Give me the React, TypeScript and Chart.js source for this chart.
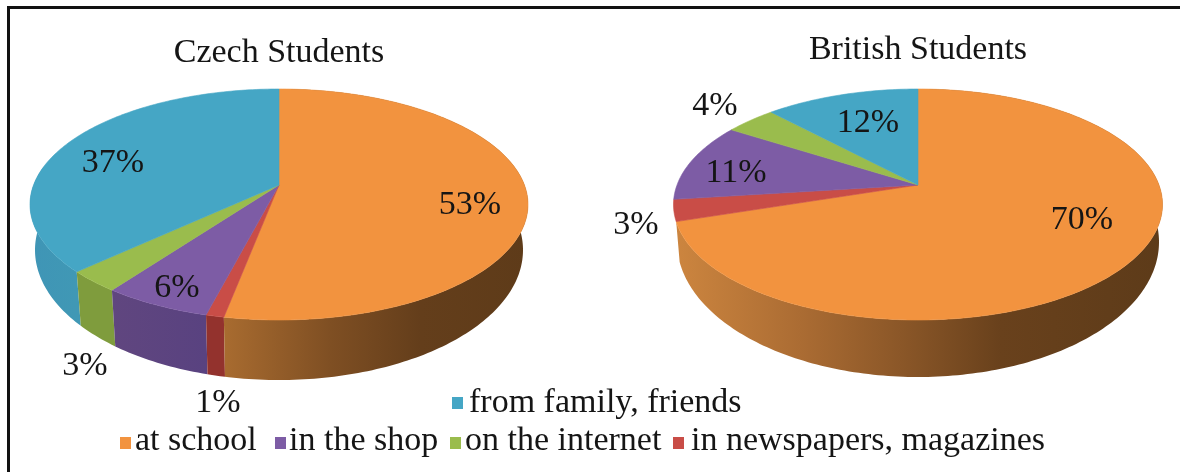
import React, { useEffect, useRef } from "react";
import { Chart, registerables } from "chart.js";

Chart.register(...registerables);

// Shared series (clockwise from twelve o'clock)
const categories = ["at school", "in newspapers, magazines", "in the shop", "on the internet", "from family, friends"];
const czechValues = [53, 1, 6, 3, 37];
const britishValues = [70, 3, 11, 4, 12];
const sliceColors = ["#F2933F", "#C94D47", "#7D5CA5", "#9ABC4D", "#45A6C5"];

const FONT = '"Liberation Serif", "Times New Roman", serif';
const TEXT = "#151515";

// Page position of each percentage label, in slice order
const czechLabelAt = [[470, 202], [218, 400], [177, 285], [85, 363], [113, 160]];
const britishLabelAt = [[1082, 217], [636, 222], [736, 170], [715, 103], [868, 120]];

// Side wall colours: [page x, colour] stops per slice
const czechWall = [
  [[222, "#A96C30"], [330, "#7F4F23"], [420, "#643E1B"], [528, "#5E3B19"]],
  [[205, "#93322D"], [222, "#93322D"]],
  [[111, "#60467F"], [205, "#594280"]],
  [[76, "#7F9C3D"], [111, "#7F9C3D"]],
  [[30, "#3F95B6"], [76, "#4098B5"]],
];
const britishWall = [
  [[677, "#CC853F"], [800, "#AB6C33"], [900, "#8B5728"], [1000, "#69411C"], [1163, "#5D3B19"]],
  [[674, "#93322D"], [680, "#93322D"]],
  [[674, "#60467F"], [730, "#60467F"]],
  [[730, "#7F9C3D"], [775, "#7F9C3D"]],
  [[775, "#3F95B6"], [918, "#3F95B6"]],
];

// Perspective tilt of the disc: the far half is foreshortened
const TILT = 0.1688;
const STEP = Math.PI / 180;

type DiscShape = {
  ry: number;
  wallRx: number;
  wallCy: number;
  wallRy: number;
  wallEnd: number;
  pageLeft: number;
  labelAt: number[][];
  wall: any[][];
};

function project(cx: number, cy: number, rx: number, ry: number, theta: number): [number, number] {
  const u = Math.sin(theta);
  const v = Math.cos(theta);
  const w = 1 + TILT * v;
  const x = cx + (rx * Math.sqrt(1 - TILT * TILT) * u) / w;
  const y = cy - ry * TILT - (ry * (1 - TILT * TILT) * v) / w;
  return [x, y];
}

function samples(start: number, end: number): number[] {
  const out: number[] = [];
  for (let t = start; t < end; t += STEP) out.push(t);
  out.push(end);
  return out;
}

// Replaces the flat arcs with a tilted disc built from the library's computed arc angles
const discPlugin = {
  id: "tiltedDisc",
  beforeDatasetsDraw(chart: any, _args: any, opts: DiscShape) {
    const { ctx } = chart;
    const arcs = chart.getDatasetMeta(0).data;
    const wallEnd = (opts.wallEnd * Math.PI) / 180;
    ctx.save();

    // Side walls, rear slices first so the front slice overlaps them
    for (let i = arcs.length - 1; i >= 0; i--) {
      const arc = arcs[i];
      const s = arc.startAngle + Math.PI / 2;
      const e = Math.min(arc.endAngle + Math.PI / 2, wallEnd);
      if (e <= s) continue;
      const ts = samples(s, e);
      const stops = opts.wall[i];
      const first = stops[0][0];
      const last = stops[stops.length - 1][0];
      const grad = ctx.createLinearGradient(first - opts.pageLeft, 0, last - opts.pageLeft, 0);
      stops.forEach(([x, c]: any) => grad.addColorStop((x - first) / (last - first), c));
      ctx.beginPath();
      ts.forEach((t, k) => {
        const [x, y] = project(arc.x, arc.y, arc.outerRadius, opts.ry, t);
        if (k === 0) ctx.moveTo(x, y);
        else ctx.lineTo(x, y);
      });
      [...ts].reverse().forEach((t) => {
        const [x, y] = project(arc.x, opts.wallCy, opts.wallRx, opts.wallRy, t);
        ctx.lineTo(x, y);
      });
      ctx.closePath();
      ctx.fillStyle = grad;
      ctx.fill();
    }

    // Top face
    arcs.forEach((arc: any) => {
      const s = arc.startAngle + Math.PI / 2;
      const e = arc.endAngle + Math.PI / 2;
      ctx.beginPath();
      ctx.moveTo(arc.x, arc.y - opts.ry * TILT);
      samples(s, e).forEach((t) => {
        const [x, y] = project(arc.x, arc.y, arc.outerRadius, opts.ry, t);
        ctx.lineTo(x, y);
      });
      ctx.closePath();
      ctx.fillStyle = arc.options.backgroundColor;
      ctx.strokeStyle = arc.options.backgroundColor;
      ctx.lineWidth = 0.6;
      ctx.fill();
      ctx.stroke();
    });

    ctx.font = `34px ${FONT}`;
    ctx.fillStyle = TEXT;
    ctx.textAlign = "center";
    ctx.textBaseline = "alphabetic";
    chart.data.datasets[0].data.forEach((value: number, i: number) => {
      const [px, py] = opts.labelAt[i];
      ctx.fillText(`${value}%`, px - opts.pageLeft, py + 11.5);
    });

    ctx.restore();
    return false;
  },
};

function makeChart(
  canvas: HTMLCanvasElement,
  title: string,
  values: number[],
  radius: number,
  titlePad: number,
  bottomPad: number,
  disc: DiscShape,
) {
  return new Chart(canvas, {
    type: "pie",
    data: {
      labels: categories,
      datasets: [{ data: values, backgroundColor: sliceColors, borderWidth: 0 }],
    },
    options: {
      animation: false,
      responsive: false,
      radius,
      layout: { padding: { bottom: bottomPad } },
      plugins: {
        legend: { display: false },
        tooltip: { enabled: false },
        title: {
          display: true,
          text: title,
          color: TEXT,
          font: { family: FONT, size: 34, weight: "normal", lineHeight: 1.2 },
          padding: { top: titlePad, bottom: 0 },
        },
        tiltedDisc: disc,
      } as any,
    },
    plugins: [discPlugin],
  });
}

// Legend entries in reading order: [category index, swatch left, text left, row]
const legendEntries = [
  [4, 452, 469, 0],
  [0, 120, 135, 1],
  [2, 275, 289, 1],
  [3, 450, 465, 1],
  [1, 673, 691, 1],
];
const legendRowTop = [383.5, 421.5];
const swatchRowTop = [397, 437];

export default function App() {
  const leftRef = useRef<HTMLCanvasElement>(null);
  const rightRef = useRef<HTMLCanvasElement>(null);

  useEffect(() => {
    const left = makeChart(leftRef.current!, "Czech Students", czechValues, 249, 33, 136.8, {
      ry: 115.5,
      wallRx: 244,
      wallCy: 250,
      wallRy: 130,
      wallEnd: 280,
      pageLeft: 0,
      labelAt: czechLabelAt,
      wall: czechWall,
    });
    const right = makeChart(rightRef.current!, "British Students", britishValues, 244.5, 30, 133.8, {
      ry: 115.5,
      wallRx: 241,
      wallCy: 242,
      wallRy: 135,
      wallEnd: 252,
      pageLeft: 600,
      labelAt: britishLabelAt,
      wall: britishWall,
    });
    return () => {
      left.destroy();
      right.destroy();
    };
  }, []);

  return (
    <div style={{ position: "fixed", left: 0, top: 0, width: 1180, height: 472, overflow: "hidden", background: "#fff" }}>
      <div style={{ position: "absolute", left: 7, top: 6, right: 0, height: 2.5, background: "#111" }} />
      <div style={{ position: "absolute", left: 7, top: 6, bottom: 0, width: 2.5, background: "#111" }} />
      <canvas ref={leftRef} width={558} height={472} style={{ position: "absolute", left: 0, top: 0 }} />
      <canvas ref={rightRef} width={636} height={472} style={{ position: "absolute", left: 600, top: 0 }} />
      {legendEntries.map(([cat, swatchX, textX, row]) => (
        <React.Fragment key={cat}>
          <span
            style={{
              position: "absolute",
              left: swatchX,
              top: swatchRowTop[row],
              width: 11,
              height: 12,
              background: sliceColors[cat],
            }}
          />
          <span
            style={{
              position: "absolute",
              left: textX,
              top: legendRowTop[row],
              font: `34px/34px ${FONT}`,
              color: TEXT,
              whiteSpace: "nowrap",
            }}
          >
            {categories[cat]}
          </span>
        </React.Fragment>
      ))}
    </div>
  );
}
